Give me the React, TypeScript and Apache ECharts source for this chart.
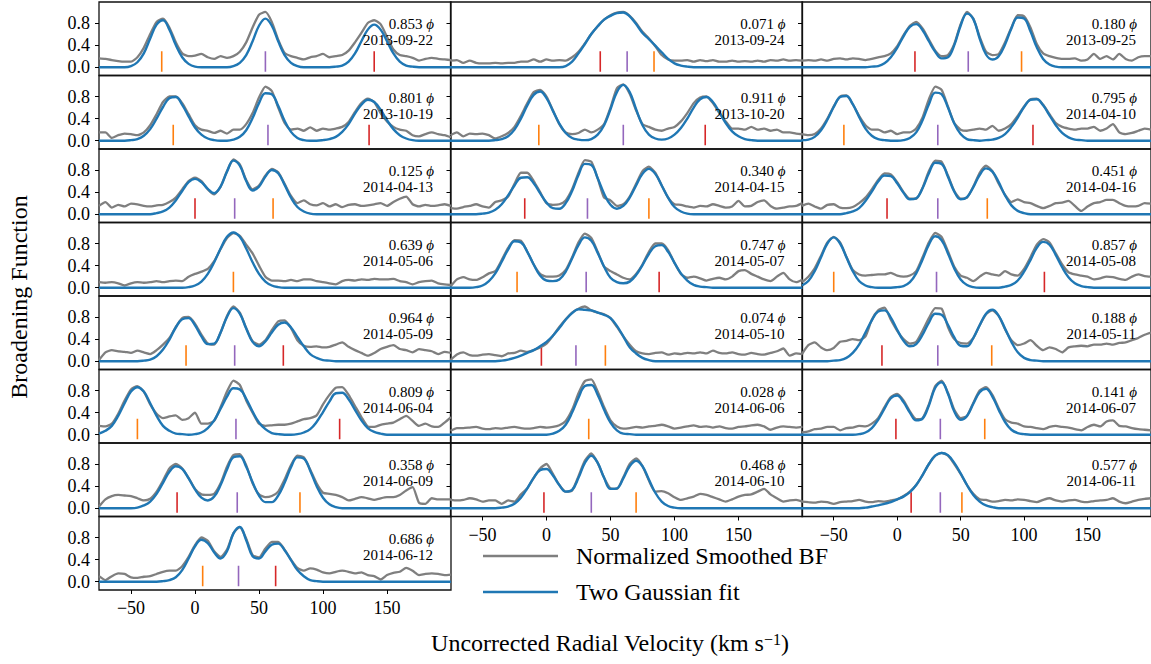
import React, { useEffect, useRef } from 'react';
import * as echarts from 'echarts';

// velocity grid (km/s)
const VEL = [-75,-70,-65,-60,-55,-50,-45,-40,-35,-30,-25,-20,-15,-10,-5,0,5,10,15,20,25,30,35,40,45,50,55,60,65,70,75,80,85,90,95,100,105,110,115,120,125,130,135,140,145,150,155,160,165,170,175,180,185,190,195,200];

// ---- column 1 ----
const bf_20130922 = [0.16,0.15,0.13,0.11,0.10,0.10,0.18,0.35, 0.60,0.82,0.88,0.72,0.45,0.25,0.20,0.21, 0.24,0.18,0.15,0.20,0.17,0.20,0.28,0.45, 0.72,0.95,1.00,0.82,0.50,0.26,0.20,0.17, 0.14,0.18,0.20,0.24,0.18,0.20,0.22,0.30, 0.45,0.62,0.80,0.85,0.78,0.55,0.32,0.22, 0.20,0.17,0.12,0.15,0.17,0.15,0.14,0.13];
const fit_20130922 = [0,0,0,0,0,0.02,0.09,0.25, 0.52,0.77,0.85,0.68,0.40,0.18,0.06,0.01, 0,0,0,0,0,0.02,0.08,0.22, 0.47,0.75,0.88,0.75,0.47,0.22,0.08,0.02, 0,0,0,0,0,0.01,0.03,0.10, 0.25,0.47,0.68,0.77,0.68,0.47,0.25,0.10, 0.03,0.01,0,0,0,0,0,0];

const bf_20131019 = [0.15,0.15,0.05,0.10,0.13,0.12,0.10,0.15, 0.28,0.48,0.70,0.80,0.80,0.68,0.48,0.28, 0.20,0.18,0.14,0.18,0.13,0.20,0.20,0.30, 0.50,0.78,0.98,0.90,0.60,0.32,0.20,0.22, 0.18,0.24,0.18,0.22,0.20,0.22,0.25,0.34, 0.52,0.68,0.76,0.70,0.50,0.35,0.25,0.20, 0.18,0.10,0.08,0.12,0.15,0.12,0.10,0.06];
const fit_20131019 = [0,0,0,0,0,0.01,0.03,0.09, 0.21,0.40,0.61,0.77,0.79,0.65,0.44,0.24, 0.11,0.04,0.01,0,0,0.02,0.07,0.19, 0.41,0.68,0.86,0.84,0.63,0.36,0.16,0.05, 0.01,0,0,0.01,0.03,0.07,0.16,0.30, 0.49,0.65,0.74,0.70,0.56,0.37,0.21,0.10, 0.04,0.01,0,0,0,0,0,0];

const bf_20140413 = [0.15,0.22,0.12,0.17,0.14,0.19,0.18,0.15, 0.14,0.16,0.17,0.22,0.30,0.45,0.60,0.66, 0.60,0.45,0.36,0.50,0.78,0.99,0.90,0.62, 0.45,0.52,0.70,0.82,0.76,0.55,0.33,0.20, 0.25,0.18,0.16,0.20,0.14,0.18,0.13,0.17, 0.18,0.15,0.16,0.18,0.20,0.15,0.22,0.28, 0.32,0.18,0.14,0.17,0.15,0.16,0.18,0.15];
const fit_20140413 = [0,0,0,0,0,0,0,0, 0,0.02,0.05,0.12,0.25,0.42,0.58,0.64, 0.58,0.46,0.38,0.50,0.77,0.97,0.88,0.60, 0.43,0.50,0.68,0.80,0.74,0.53,0.30,0.13, 0.05,0.01,0,0,0,0,0,0, 0,0,0,0,0,0,0,0, 0,0,0,0,0,0,0,0];

const bf_20140506 = [0.10,0.09,0.10,0.08,0.04,0.08,0.10,0.09, 0.10,0.12,0.10,0.12,0.13,0.12,0.20,0.25, 0.29,0.34,0.48,0.70,0.90,0.99,0.94,0.78, 0.62,0.40,0.20,0.13,0.13,0.12,0.14,0.12, 0.15,0.15,0.12,0.10,0.08,0.06,0.12,0.14, 0.13,0.15,0.14,0.16,0.15,0.15,0.16,0.12, 0.10,0.06,0.10,0.12,0.13,0.08,0.06,0.05];
const fit_20140506 = [0,0,0,0,0,0,0,0, 0,0,0,0,0,0,0.01,0.04, 0.11,0.25,0.46,0.71,0.92,1.00,0.92,0.71, 0.46,0.25,0.11,0.04,0.01,0,0,0, 0,0,0,0,0,0,0,0, 0,0,0,0,0,0,0,0, 0,0,0,0,0,0,0,0];

const bf_20140509 = [0.02,0.16,0.20,0.18,0.17,0.15,0.19,0.16, 0.13,0.20,0.30,0.42,0.62,0.78,0.80,0.68, 0.48,0.32,0.30,0.52,0.82,0.99,0.88,0.60, 0.36,0.30,0.38,0.56,0.72,0.74,0.60,0.38, 0.28,0.26,0.27,0.25,0.26,0.30,0.34,0.26, 0.20,0.15,0.10,0.15,0.22,0.26,0.29,0.22, 0.20,0.16,0.22,0.20,0.18,0.13,0.17,0.15];
const fit_20140509 = [0,0,0,0,0,0,0,0.01, 0.03,0.09,0.21,0.39,0.61,0.76,0.78,0.65, 0.45,0.31,0.32,0.52,0.80,0.96,0.86,0.59, 0.35,0.27,0.36,0.52,0.66,0.70,0.61,0.44, 0.27,0.13,0.06,0.02,0.01,0,0,0, 0,0,0,0,0,0,0,0, 0,0,0,0,0,0,0,0];

const bf_20140604 = [0.16,0.15,0.20,0.38,0.62,0.82,0.88,0.78, 0.55,0.38,0.30,0.33,0.35,0.27,0.30,0.40, 0.20,0.20,0.25,0.50,0.78,0.98,0.90,0.62, 0.40,0.20,0.16,0.17,0.18,0.18,0.20,0.24, 0.28,0.30,0.35,0.55,0.72,0.85,0.86,0.72, 0.52,0.32,0.15,0.14,0.18,0.20,0.22,0.28, 0.34,0.25,0.16,0.20,0.15,0.14,0.22,0.32];
const fit_20140604 = [0.02,0.07,0.16,0.34,0.57,0.78,0.86,0.78, 0.57,0.34,0.16,0.07,0.02,0.01,0,0.01, 0.04,0.12,0.26,0.47,0.69,0.84,0.82,0.65, 0.42,0.22,0.10,0.03,0.01,0,0,0.01, 0.04,0.10,0.23,0.41,0.60,0.75,0.76,0.64, 0.45,0.26,0.12,0.05,0.02,0,0,0, 0,0,0,0,0,0,0,0];

const bf_20140609 = [0.03,0.16,0.22,0.24,0.23,0.22,0.18,0.14, 0.17,0.30,0.50,0.72,0.80,0.72,0.55,0.35, 0.25,0.24,0.26,0.45,0.75,0.96,0.98,0.78, 0.45,0.25,0.20,0.22,0.30,0.52,0.78,0.95, 0.92,0.70,0.45,0.28,0.26,0.24,0.20,0.14, 0.17,0.20,0.18,0.15,0.18,0.20,0.20,0.24, 0.32,0.38,0.10,0.08,0.18,0.16,0.16,0.16];
const fit_20140609 = [0,0,0,0,0,0,0.01,0.05, 0.12,0.26,0.46,0.66,0.76,0.71,0.54,0.34, 0.19,0.14,0.21,0.42,0.70,0.92,0.94,0.75, 0.47,0.23,0.11,0.11,0.23,0.46,0.74,0.92, 0.90,0.68,0.40,0.19,0.07,0.02,0,0, 0,0,0,0,0,0,0,0, 0,0,0,0,0,0,0,0];

const bf_20140612 = [0.10,0.03,0.10,0.15,0.14,0.08,0.07,0.09, 0.10,0.14,0.18,0.20,0.20,0.28,0.45,0.66, 0.80,0.74,0.55,0.45,0.58,0.88,0.99,0.78, 0.48,0.44,0.60,0.72,0.72,0.58,0.40,0.25, 0.20,0.24,0.22,0.17,0.15,0.18,0.20,0.18, 0.15,0.17,0.12,0.10,0.04,0.12,0.16,0.18, 0.25,0.20,0.12,0.14,0.15,0.14,0.12,0.13];
const fit_20140612 = [0,0,0,0,0,0,0,0, 0,0,0.01,0.03,0.08,0.21,0.42,0.64, 0.76,0.70,0.53,0.42,0.55,0.87,0.99,0.75, 0.46,0.42,0.55,0.67,0.69,0.57,0.39,0.21, 0.10,0.03,0.01,0,0,0,0,0, 0,0,0,0,0,0,0,0, 0,0,0,0,0,0,0,0];

// ---- column 2 ----
const bf_20130924 = [0.12,0.13,0.08,0.12,0.08,0.07,0.07,0.08, 0.07,0.08,0.08,0.10,0.10,0.14,0.10,0.14, 0.12,0.13,0.12,0.18,0.28,0.43,0.60,0.74, 0.86,0.94,0.99,1.00,0.93,0.80,0.64,0.52, 0.38,0.22,0.14,0.12,0.12,0.13,0.10,0.13, 0.11,0.13,0.10,0.10,0.12,0.10,0.11,0.10, 0.12,0.10,0.13,0.12,0.14,0.12,0.13,0.12];
const fit_20130924 = [0,0,0,0,0,0,0,0, 0,0,0,0,0,0,0,0, 0,0,0.02,0.10,0.25,0.42,0.60,0.74, 0.86,0.93,0.98,0.99,0.92,0.78,0.62,0.51, 0.39,0.27,0.15,0.07,0.03,0.01,0,0, 0,0,0,0,0,0,0,0, 0,0,0,0,0,0,0,0];

const bf_20131020 = [0.10,0.15,0.08,0.13,0.12,0.13,0.10,0.04, 0.08,0.14,0.25,0.45,0.68,0.88,0.92,0.80, 0.55,0.30,0.15,0.12,0.14,0.20,0.15,0.20, 0.30,0.60,0.95,1.02,0.85,0.55,0.30,0.25, 0.20,0.18,0.22,0.25,0.35,0.50,0.68,0.78, 0.80,0.68,0.50,0.35,0.22,0.22,0.20,0.25, 0.20,0.22,0.18,0.20,0.15,0.15,0.13,0.12];
const fit_20131020 = [0,0,0,0,0,0,0,0.01, 0.03,0.08,0.20,0.40,0.64,0.83,0.89,0.77, 0.54,0.31,0.14,0.05,0.02,0.01,0.03,0.11, 0.28,0.57,0.88,1.01,0.88,0.57,0.28,0.11, 0.04,0.02,0.04,0.11,0.23,0.40,0.60,0.75, 0.79,0.70,0.52,0.32,0.17,0.08,0.03,0.01, 0,0,0,0,0,0,0,0];

const bf_20140415 = [0.11,0.10,0.13,0.15,0.18,0.14,0.12,0.22, 0.25,0.32,0.55,0.75,0.75,0.60,0.40,0.20, 0.17,0.18,0.25,0.45,0.75,0.98,0.95,0.65, 0.30,0.25,0.15,0.18,0.32,0.55,0.78,0.86, 0.75,0.52,0.30,0.18,0.17,0.14,0.12,0.15, 0.14,0.18,0.15,0.12,0.14,0.24,0.14,0.15, 0.22,0.25,0.15,0.10,0.12,0.14,0.15,0.20];
const fit_20140415 = [0,0,0,0,0,0.01,0.03,0.08, 0.18,0.34,0.52,0.66,0.67,0.56,0.38,0.21, 0.11,0.10,0.20,0.42,0.71,0.91,0.89,0.65, 0.37,0.17,0.10,0.15,0.30,0.52,0.73,0.82, 0.73,0.52,0.30,0.13,0.05,0.01,0,0, 0,0,0,0,0,0,0,0, 0,0,0,0,0,0,0,0];

const bf_20140507 = [0.02,0.15,0.19,0.15,0.14,0.19,0.26,0.30, 0.50,0.72,0.86,0.85,0.65,0.42,0.25,0.20, 0.20,0.22,0.32,0.55,0.82,0.98,0.90,0.65, 0.38,0.30,0.24,0.18,0.15,0.25,0.42,0.65, 0.80,0.80,0.68,0.45,0.25,0.18,0.20,0.17, 0.13,0.16,0.18,0.15,0.20,0.30,0.32,0.25, 0.20,0.15,0.12,0.20,0.27,0.15,0.10,0.15];
const fit_20140507 = [0,0,0,0,0.01,0.04,0.12,0.26, 0.47,0.69,0.84,0.82,0.65,0.42,0.22,0.13, 0.12,0.15,0.29,0.53,0.77,0.91,0.85,0.63, 0.38,0.18,0.10,0.08,0.11,0.23,0.41,0.61, 0.75,0.77,0.65,0.45,0.26,0.13,0.05,0.02, 0.01,0,0,0,0,0,0,0, 0,0,0,0,0,0,0,0];

const bf_20140510 = [0.02,0.12,0.16,0.11,0.10,0.12,0.13,0.11, 0.09,0.14,0.15,0.19,0.17,0.20,0.25,0.32, 0.46,0.62,0.76,0.88,0.95,0.99,0.92,0.88, 0.85,0.78,0.62,0.45,0.30,0.18,0.14,0.13, 0.15,0.16,0.12,0.14,0.13,0.15,0.14,0.16, 0.14,0.19,0.15,0.14,0.16,0.13,0.12,0.15, 0.13,0.12,0.15,0.18,0.23,0.10,0.14,0.13];
const fit_20140510 = [0,0,0,0,0,0,0,0, 0.01,0.03,0.06,0.10,0.15,0.20,0.27,0.35, 0.46,0.60,0.75,0.87,0.94,0.93,0.92,0.88, 0.84,0.78,0.64,0.45,0.25,0.14,0.06,0.02, 0,0,0,0,0,0,0,0, 0,0,0,0,0,0,0,0, 0,0,0,0,0,0,0,0];

const bf_20140606 = [0.07,0.12,0.12,0.13,0.14,0.11,0.10,0.12, 0.11,0.13,0.14,0.12,0.11,0.12,0.14,0.13, 0.14,0.17,0.25,0.45,0.75,0.97,1.00,0.78, 0.50,0.26,0.15,0.11,0.12,0.14,0.13,0.15, 0.16,0.18,0.15,0.11,0.13,0.15,0.17,0.14, 0.15,0.13,0.15,0.12,0.11,0.14,0.15,0.17, 0.18,0.15,0.09,0.13,0.15,0.14,0.13,0.14];
const fit_20140606 = [0,0,0,0,0,0,0,0, 0,0,0,0,0,0,0,0, 0.02,0.07,0.18,0.40,0.67,0.88,0.90,0.72, 0.45,0.22,0.08,0.02,0.01,0,0,0, 0,0,0,0,0,0,0,0, 0,0,0,0,0,0,0,0, 0,0,0,0,0,0,0,0];

const bf_20140610 = [0.15,0.14,0.15,0.18,0.16,0.12,0.14,0.14, 0.08,0.14,0.12,0.25,0.36,0.55,0.72,0.80, 0.62,0.42,0.30,0.32,0.58,0.86,0.99,0.82, 0.55,0.36,0.35,0.56,0.80,0.90,0.76,0.50, 0.30,0.31,0.27,0.20,0.15,0.18,0.21,0.26, 0.24,0.20,0.16,0.12,0.16,0.21,0.24,0.25, 0.30,0.35,0.25,0.18,0.12,0.14,0.15,0.12];
const fit_20140610 = [0,0,0,0,0,0,0,0, 0.01,0.03,0.08,0.19,0.36,0.55,0.69,0.71, 0.59,0.42,0.30,0.33,0.55,0.82,0.95,0.82, 0.55,0.35,0.36,0.54,0.76,0.86,0.76,0.52, 0.28,0.12,0.04,0.01,0,0,0,0, 0,0,0,0,0,0,0,0, 0,0,0,0,0,0,0,0];

// ---- column 3 ----
const bf_20130925 = [0.12,0.13,0.12,0.14,0.12,0.15,0.16,0.14, 0.16,0.15,0.13,0.15,0.18,0.20,0.25,0.38, 0.58,0.75,0.82,0.70,0.50,0.30,0.20,0.22, 0.42,0.78,1.00,0.88,0.55,0.28,0.22,0.24, 0.45,0.72,0.94,0.92,0.72,0.42,0.25,0.20, 0.17,0.15,0.15,0.16,0.12,0.14,0.24,0.15, 0.20,0.14,0.24,0.15,0.12,0.18,0.20,0.20];
const fit_20130925 = [0,0,0,0,0,0,0,0, 0,0,0,0.01,0.02,0.07,0.18,0.35, 0.56,0.73,0.78,0.67,0.47,0.28,0.16,0.18, 0.40,0.75,0.97,0.87,0.52,0.23,0.14,0.20, 0.41,0.70,0.90,0.88,0.65,0.36,0.15,0.05, 0.01,0,0,0,0,0,0,0, 0,0,0,0,0,0,0,0];

const bf_20140410 = [0.12,0.10,0.12,0.22,0.40,0.62,0.80,0.82, 0.66,0.45,0.28,0.20,0.20,0.15,0.18,0.12, 0.15,0.15,0.22,0.42,0.75,0.98,0.92,0.62, 0.32,0.20,0.18,0.20,0.22,0.20,0.27,0.18, 0.22,0.30,0.45,0.62,0.75,0.76,0.65,0.48, 0.32,0.25,0.22,0.20,0.22,0.22,0.25,0.18, 0.22,0.30,0.15,0.12,0.14,0.18,0.22,0.20];
const fit_20140410 = [0.01,0.02,0.07,0.19,0.38,0.61,0.79,0.81, 0.66,0.43,0.22,0.09,0.03,0.01,0,0, 0.01,0.05,0.15,0.37,0.66,0.87,0.84,0.60, 0.31,0.12,0.03,0.01,0,0.01,0.02,0.05, 0.12,0.25,0.42,0.61,0.74,0.75,0.64,0.46, 0.28,0.14,0.06,0.02,0.01,0,0,0, 0,0,0,0,0,0,0,0];

const bf_20140416 = [0.15,0.19,0.14,0.10,0.17,0.18,0.12,0.11, 0.13,0.20,0.30,0.45,0.62,0.74,0.72,0.58, 0.40,0.28,0.28,0.48,0.78,0.97,0.95,0.70, 0.42,0.28,0.30,0.50,0.75,0.88,0.78,0.55, 0.35,0.22,0.27,0.22,0.20,0.15,0.11,0.15, 0.20,0.21,0.24,0.15,0.06,0.14,0.20,0.22, 0.26,0.26,0.20,0.15,0.14,0.15,0.20,0.19];
const fit_20140416 = [0,0,0,0,0,0,0,0.02, 0.05,0.11,0.24,0.41,0.59,0.70,0.69,0.56, 0.39,0.27,0.29,0.47,0.74,0.93,0.91,0.68, 0.41,0.27,0.31,0.49,0.71,0.83,0.77,0.58, 0.34,0.16,0.06,0.02,0,0,0,0, 0,0,0,0,0,0,0,0, 0,0,0,0,0,0,0,0];

const bf_20140508 = [0.10,0.20,0.35,0.58,0.82,0.92,0.82,0.56, 0.32,0.24,0.22,0.23,0.24,0.24,0.27,0.22, 0.20,0.22,0.30,0.55,0.82,0.99,0.92,0.66, 0.38,0.22,0.18,0.12,0.20,0.27,0.24,0.22, 0.30,0.24,0.22,0.34,0.55,0.78,0.88,0.82, 0.62,0.42,0.28,0.24,0.22,0.20,0.15,0.17, 0.20,0.19,0.16,0.14,0.20,0.24,0.21,0.20];
const fit_20140508 = [0.04,0.12,0.30,0.55,0.80,0.91,0.80,0.55, 0.30,0.12,0.04,0.01,0,0,0,0.01, 0.03,0.10,0.26,0.51,0.78,0.93,0.86,0.62, 0.35,0.15,0.05,0.01,0,0,0,0, 0.02,0.05,0.13,0.29,0.50,0.72,0.83,0.78, 0.59,0.37,0.19,0.08,0.03,0.01,0,0, 0,0,0,0,0,0,0,0];

const bf_20140511 = [0.13,0.29,0.34,0.25,0.20,0.24,0.35,0.37, 0.40,0.38,0.45,0.75,0.92,0.97,0.75,0.55, 0.40,0.32,0.35,0.55,0.78,0.96,0.95,0.62, 0.40,0.33,0.32,0.42,0.65,0.85,0.92,0.82, 0.58,0.38,0.29,0.32,0.38,0.28,0.20,0.25, 0.22,0.16,0.25,0.27,0.28,0.27,0.30,0.30, 0.32,0.30,0.33,0.34,0.38,0.42,0.48,0.52];
const fit_20140511 = [0,0,0,0,0,0.01,0.02,0.06, 0.15,0.30,0.52,0.74,0.90,0.92,0.79,0.57, 0.37,0.27,0.31,0.48,0.70,0.86,0.84,0.66, 0.43,0.28,0.27,0.42,0.65,0.86,0.93,0.82, 0.59,0.35,0.16,0.06,0.02,0.01,0,0, 0,0,0,0,0,0,0,0, 0,0,0,0,0,0,0,0];

const bf_20140607 = [0.04,0.06,0.10,0.11,0.14,0.14,0.08,0.12, 0.13,0.16,0.15,0.20,0.30,0.50,0.68,0.74, 0.62,0.42,0.28,0.30,0.55,0.88,0.98,0.76, 0.45,0.30,0.34,0.58,0.80,0.86,0.72,0.48, 0.28,0.22,0.20,0.15,0.14,0.12,0.10,0.14, 0.16,0.14,0.13,0.10,0.08,0.14,0.18,0.15, 0.24,0.26,0.16,0.15,0.12,0.10,0.09,0.08];
const fit_20140607 = [0,0,0,0,0,0,0,0, 0,0.01,0.04,0.12,0.27,0.47,0.66,0.71, 0.59,0.40,0.26,0.29,0.53,0.85,0.95,0.74, 0.42,0.27,0.34,0.56,0.77,0.83,0.69,0.45, 0.23,0.09,0.03,0.01,0,0,0,0, 0,0,0,0,0,0,0,0, 0,0,0,0,0,0,0,0];

const bf_20140611 = [0.12,0.11,0.10,0.12,0.11,0.08,0.11,0.12, 0.13,0.15,0.12,0.11,0.13,0.12,0.14,0.16, 0.22,0.30,0.42,0.60,0.80,0.95,1.00,0.95, 0.80,0.62,0.42,0.26,0.16,0.15,0.12,0.13, 0.15,0.14,0.16,0.15,0.13,0.11,0.15,0.18, 0.14,0.12,0.14,0.15,0.12,0.11,0.13,0.14, 0.15,0.18,0.12,0.09,0.12,0.15,0.17,0.18];
const fit_20140611 = [0,0,0,0,0,0,0,0, 0,0,0.01,0.03,0.05,0.08,0.11,0.16, 0.21,0.29,0.42,0.60,0.80,0.95,1.00,0.96, 0.82,0.63,0.42,0.24,0.12,0.05,0.02,0, 0,0,0,0,0,0,0,0, 0,0,0,0,0,0,0,0, 0,0,0,0,0,0,0,0];

// panel order: column 1 (8 panels), column 2 (7), column 3 (7), top to bottom
const DATES = ['2013-09-22','2013-10-19','2014-04-13','2014-05-06','2014-05-09','2014-06-04','2014-06-09','2014-06-12',
  '2013-09-24','2013-10-20','2014-04-15','2014-05-07','2014-05-10','2014-06-06','2014-06-10',
  '2013-09-25','2014-04-10','2014-04-16','2014-05-08','2014-05-11','2014-06-07','2014-06-11'];
const PHASES = ['0.853','0.801','0.125','0.639','0.964','0.809','0.358','0.686',
  '0.071','0.911','0.340','0.747','0.074','0.028','0.468',
  '0.180','0.795','0.451','0.857','0.188','0.141','0.577'];
const BF = [bf_20130922,bf_20131019,bf_20140413,bf_20140506,bf_20140509,bf_20140604,bf_20140609,bf_20140612,
  bf_20130924,bf_20131020,bf_20140415,bf_20140507,bf_20140510,bf_20140606,bf_20140610,
  bf_20130925,bf_20140410,bf_20140416,bf_20140508,bf_20140511,bf_20140607,bf_20140611];
const FIT = [fit_20130922,fit_20131019,fit_20140413,fit_20140506,fit_20140509,fit_20140604,fit_20140609,fit_20140612,
  fit_20130924,fit_20131020,fit_20140415,fit_20140507,fit_20140510,fit_20140606,fit_20140610,
  fit_20130925,fit_20140410,fit_20140416,fit_20140508,fit_20140511,fit_20140607,fit_20140611];
const RV_ORANGE = [-26,-17,61,30,-7,-45,82,6, 84,-6,80,-23,46,33,70, 98,-42,71,-50,74.5,69,51];
const RV_PURPLE = [55,57,31,null,31,32,33,34, 63,60,32,31,23,null,35, 56,32,32,31,32,34,34];
const RV_RED = [140,136,0,null,69,113,-14,63, 42,124,-17,88,-4,null,-2, 14,107,-8,116,-12,-1,11];

const X_TICKS = [-50, 0, 50, 100, 150];
const Y_TICKS = [0, 0.4, 0.8];

const FONT = '"Liberation Serif", "Times New Roman", serif';
const COL_LEFT = [99, 450.5, 802];
const COL_W = 352;
const ROW_TOP0 = 2;
const ROW_H = 73.5;
const MARK_Y0 = -0.08;
const MARK_Y1 = 0.29;

function buildOption() {
  const grid: any[] = [];
  const xAxis: any[] = [];
  const yAxis: any[] = [];
  const series: any[] = [];
  const graphic: any[] = [];

  DATES.forEach((date, k) => {
    const col = k < 8 ? 0 : k < 15 ? 1 : 2;
    const row = col === 0 ? k : col === 1 ? k - 8 : k - 15;
    const isBottom = (col === 0 && row === 7) || (col > 0 && row === 6);
    const left = COL_LEFT[col];
    const top = ROW_TOP0 + row * ROW_H;
    grid.push({ left, top, width: COL_W, height: ROW_H, show: true, borderColor: '#111', borderWidth: 1.3, backgroundColor: 'transparent' });
    xAxis.push({
      gridIndex: k, type: 'value', min: -75, max: 200, position: 'bottom',
      axisLine: { show: false, onZero: false }, splitLine: { show: false },
      axisTick: { show: isBottom, inside: false, length: 4, customValues: X_TICKS, lineStyle: { color: '#000', width: 1 } },
      axisLabel: { show: isBottom, customValues: X_TICKS, margin: 9, color: '#000', fontFamily: FONT, fontSize: 18,
        formatter: (v: number) => (v < 0 ? '\u2212' + Math.abs(v) : String(v)) },
    });
    yAxis.push({
      gridIndex: k, type: 'value', min: -0.15, max: 1.18, position: 'left',
      axisLine: { show: false, onZero: false }, splitLine: { show: false },
      axisTick: { show: true, inside: false, length: 4, customValues: Y_TICKS, lineStyle: { color: '#000', width: 1 } },
      axisLabel: { show: col === 0, customValues: Y_TICKS, margin: 9, color: '#000', fontFamily: FONT, fontSize: 18,
        formatter: (v: number) => v.toFixed(1) },
    });
    const marks: [number | null, string][] = [[RV_ORANGE[k], '#ff7f0e'], [RV_PURPLE[k], '#9467bd'], [RV_RED[k], '#d62728']];
    marks.forEach(([v, c]) => {
      if (v === null || v === undefined) return;
      series.push({ type: 'line', xAxisIndex: k, yAxisIndex: k, data: [[v, MARK_Y0], [v, MARK_Y1]], symbol: 'none',
        lineStyle: { color: c, width: 1.6 }, silent: true, z: 1, animation: false });
    });
    series.push({ type: 'line', xAxisIndex: k, yAxisIndex: k, data: VEL.map((v, i) => [v, BF[k][i]]), symbol: 'none',
      smooth: 0.2, lineStyle: { color: '#7f7f7f', width: 2.3 }, silent: true, z: 2, animation: false });
    series.push({ type: 'line', xAxisIndex: k, yAxisIndex: k, data: VEL.map((v, i) => [v, FIT[k][i]]), symbol: 'none',
      smooth: 0.4, lineStyle: { color: '#1f77b4', width: 2.4 }, silent: true, z: 3, animation: false });

    const tx = left + COL_W - 17;
    graphic.push({
      type: 'text', x: tx, y: top + 22, z: 100,
      style: { text: `{a|${PHASES[k]}} {b|\u03d5}`, font: `15px ${FONT}`, fill: '#000', align: 'right', verticalAlign: 'middle',
        rich: { a: { fontFamily: FONT, fontSize: 15, fill: '#000' }, b: { fontFamily: FONT, fontSize: 15, fontStyle: 'italic', fill: '#000' } } },
    });
    graphic.push({
      type: 'text', x: tx - 1, y: top + 38, z: 100,
      style: { text: date, font: `15px ${FONT}`, fill: '#000', align: 'right', verticalAlign: 'middle' },
    });
  });

  // axis titles
  graphic.push({
    type: 'text', x: 19, y: 297, rotation: Math.PI / 2, z: 100,
    style: { text: 'Broadening Function', font: `24px ${FONT}`, fill: '#000', align: 'center', verticalAlign: 'middle' },
  });
  graphic.push({
    type: 'text', x: 610, y: 643, z: 100,
    style: {
      text: '{m|Uncorrected Radial Velocity (km s}{s|\u22121}{m|)}', font: `24px ${FONT}`, fill: '#000', align: 'center', verticalAlign: 'middle',
      rich: { m: { fontFamily: FONT, fontSize: 24, fill: '#000' }, s: { fontFamily: FONT, fontSize: 16, fill: '#000', verticalAlign: 'top' } },
    },
  });
  // legend
  graphic.push({ type: 'line', z: 100, shape: { x1: 483, y1: 556, x2: 558, y2: 556 }, style: { stroke: '#7f7f7f', lineWidth: 2.6 } });
  graphic.push({ type: 'text', x: 576, y: 556, z: 100, style: { text: 'Normalized Smoothed BF', font: `24px ${FONT}`, fill: '#000', align: 'left', verticalAlign: 'middle' } });
  graphic.push({ type: 'line', z: 100, shape: { x1: 483, y1: 592, x2: 558, y2: 592 }, style: { stroke: '#1f77b4', lineWidth: 2.6 } });
  graphic.push({ type: 'text', x: 576, y: 592, z: 100, style: { text: 'Two Gaussian fit', font: `24px ${FONT}`, fill: '#000', align: 'left', verticalAlign: 'middle' } });

  return { animation: false, backgroundColor: '#fff', grid, xAxis, yAxis, series, graphic };
}

export default function App() {
  const ref = useRef<HTMLDivElement>(null);
  useEffect(() => {
    if (!ref.current) return;
    const chart = echarts.init(ref.current, null, { renderer: 'svg' });
    chart.setOption(buildOption() as any);
    return () => chart.dispose();
  }, []);
  return <div ref={ref} style={{ position: 'fixed', left: 0, top: 0, width: 1151, height: 664, background: '#fff' }} />;
}
